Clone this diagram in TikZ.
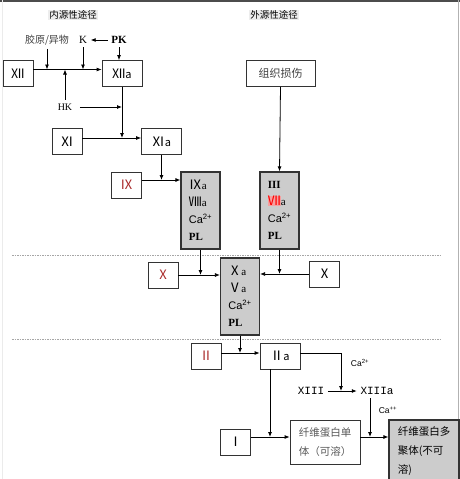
\documentclass[tikz,border=0pt]{standalone}
\usepackage{fontspec}
\setmainfont{Liberation Serif}
\setsansfont{Liberation Sans}
\newfontfamily\cjk{Noto Sans CJK SC}
\newfontfamily\monofont{Liberation Mono}
\usepackage[svgnames]{xcolor}
\usepackage{tikz}
\usetikzlibrary{arrows.meta}
\definecolor{numred}{RGB}{170,45,45}
\definecolor{pinkhl}{RGB}{245,160,160}
\newcommand{\rn}[1]{{\cjk\fontsize{13}{13}\selectfont #1}}

\begin{document}
\begin{tikzpicture}[x=1pt,y=-1pt,>={Latex[length=5pt,width=4pt]},line width=0.8pt]
\tikzstyle{every node}=[font=\cjk\fontsize{11}{13}\selectfont]
\tikzstyle{box}=[draw=black!80,fill=white,minimum width=30pt,minimum height=26pt,inner sep=1pt]
\tikzstyle{wbox}=[box,minimum width=40pt]
\tikzstyle{gbox}=[box,fill=black!20,line width=1.2pt,minimum width=39pt,minimum height=77pt,align=left,font=\fontsize{11}{17}\selectfont]
\tikzstyle{head}=[fill=black!7,inner sep=1pt,font=\cjk\fontsize{9.5}{11}\selectfont]
\tikzstyle{sepline}=[black!35,dash pattern=on 1.5pt off 1pt,line width=0.6pt]
\useasboundingbox (0,0) rectangle (460,479);
% frame
\draw[black!70,line width=1.5pt] (0,0.75) -- (460,0.75);
\draw[black!30,line width=1pt] (458.5,0) -- (458.5,479);
\draw[black!8] (2.5,0) -- (2.5,479);
\draw[sepline] (12,255) -- (440,255);
\draw[sepline] (12,339) -- (440,339);

\node[head] (hin) at (73,15) {内源性途径};
\node[head] (hex) at (274,15) {外源性途径};

% intrinsic
\node[font=\cjk\fontsize{10}{12}\selectfont,text=black!75] (col) at (47,40) {胶原/异物};
\node[font=\fontsize{11}{12}\selectfont] (k) at (83,40) {K};
\node[font=\bfseries\fontsize{11}{12}\selectfont] (pk) at (119,40) {PK};
\node[box] (xii) at (18,73.5) {\rn{Ⅻ}};
\node[wbox] (xiia) at (122,73.5) {\rn{Ⅻ}a};
\node[font=\fontsize{10}{12}\selectfont] (hk) at (65,107) {HK};
\node[box] (xi) at (67,141.5) {\rn{Ⅺ}};
\node[wbox] (xia) at (161.5,141.5) {\rn{Ⅺ}a};
\node[box,text=numred] (ix) at (126.5,185) {\rn{Ⅸ}};
\node[gbox] (ixa) at (200.5,210.5) {\rn{Ⅸ}a\\\rn{Ⅷ}a\\\textsf{Ca\textsuperscript{2+}}\\\textbf{PL}};

% extrinsic
\node[box,minimum width=69pt,text=black!75] (tissue) at (280.5,73.5) {组织损伤};
\node[gbox] (iii) at (279.5,210.5) {\textbf{III}\\{\setlength\fboxsep{0pt}\colorbox{pinkhl}{\color{red}\rn{Ⅶ}}}a\\\textsf{Ca\textsuperscript{2+}}\\\textbf{PL}};

% common
\node[box,text=numred] (xl) at (163,275) {\rn{Ⅹ}};
\node[box] (xr) at (324.5,274) {\rn{Ⅹ}};
\node[gbox] (xa) at (240,296.5) {\rn{Ⅹ}a\\\rn{Ⅴ}a\\\textsf{Ca\textsuperscript{2+}}\\\textbf{PL}};
\node[box,text=numred] (ii) at (206,356) {\rn{Ⅱ}};
\node[wbox] (iia) at (280,356) {\rn{Ⅱ}a};
\node[font=\sffamily\fontsize{8.5}{10}\selectfont] (ca1) at (360,363) {Ca\textsuperscript{2+}};
\node[font=\monofont\fontsize{11}{12}\selectfont] (xiii) at (311,391) {XIII};
\node[font=\monofont\fontsize{11}{12}\selectfont] (xiiia) at (377,391) {XIIIa};
\node[font=\sffamily\fontsize{8.5}{10}\selectfont] (ca2) at (388,410) {Ca\textsuperscript{++}};
\node[box] (i) at (235.5,442) {\rn{Ⅰ}};
\node[box,minimum width=70pt,minimum height=44pt,align=left,text=black!65,
  font=\cjk\fontsize{10.5}{19}\selectfont] (mono) at (325,442) {纤维蛋白单\\体（可溶）};
\node[box,fill=black!20,line width=1.2pt,minimum width=70pt,minimum height=62pt,align=left,
  font=\cjk\fontsize{10.5}{19}\selectfont] (poly) at (424,451) {纤维蛋白多\\聚体(不可\\溶)};

% connectors
\coordinate (l12) at ([yshift=4pt]xii.east);
\coordinate (l11) at ([yshift=3.5pt]xi.east);
\coordinate (l9) at ([yshift=5pt]ix.east);
\coordinate (l2) at ([yshift=3pt]ii.east);
\coordinate (l1) at ([yshift=5pt]i.east);
\coordinate (d2) at ([xshift=-10pt]iia.south);
\coordinate (d13) at ([xshift=-7pt]xiiia.south);
\coordinate (j13) at (341,391);

\draw[->] (l12) -- (l12 -| xiia.west);
\draw[->] (col.south) -- (col.south |- l12);
\draw[->] (k.south) -- (k.south |- l12);
\draw[->] (hk.north) -- (hk.north |- l12);
\draw[->] (pk.west) -- (k.east);
\draw[->] (pk.south) -- (pk.south |- xiia.north);
\draw[->] ([xshift=4pt]hk.east) -- (hk.east -| xiia.south);
\draw[->] (xiia.south) -- (xiia.south |- l11);
\draw[->] (l11) -- (l11 -| xia.west);
\draw[->] (xia.south) -- (xia.south |- l9);
\draw[->] (l9) -- (l9 -| ixa.west);
\draw[->] (tissue.south) -- (iii.north);
\draw[->] (xl) -- (xl -| xa.west);
\draw[->] (ixa.south) -- (ixa.south |- xl);
\draw[->] (xr) -- (xr -| xa.east);
\draw[->] (iii.south) -- (iii.south |- xr);
\draw[->] (l2) -- (l2 -| iia.west);
\draw[->] (xa.south) -- (xa.south |- l2);
\draw[->] ([yshift=3pt]iia.east) -| (j13);
\draw[->] (xiii.east) -- (xiiia.west);
\draw[->] (l1) -- (l1 -| mono.west);
\draw[->] (d2) -- (d2 |- l1);
\draw[->] (l1 -| mono.east) -- (l1 -| poly.west);
\draw[->] (d13) -- (d13 |- l1);
\end{tikzpicture}
\end{document}
